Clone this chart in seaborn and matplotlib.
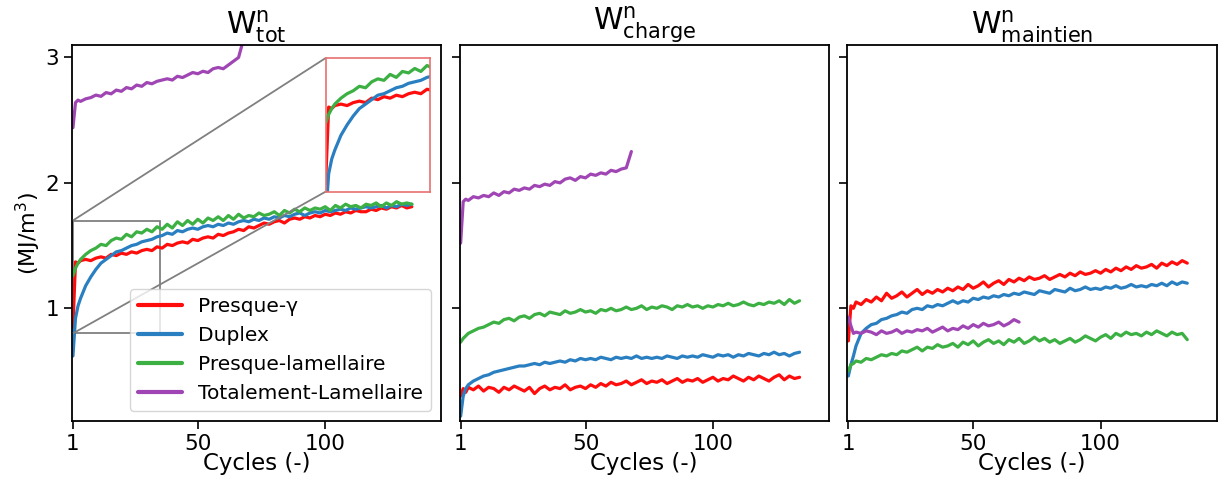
import pandas as pd
import seaborn as sns
import matplotlib
matplotlib.use('Agg')
import matplotlib.pyplot as plt
from mpl_toolkits.axes_grid1.inset_locator import mark_inset


SERIES = ['Presque-\u03b3', 'Duplex', 'Presque-lamellaire', 'Totalement-Lamellaire']
COLORS = ['#ff0d0d', '#2a7fc1', '#3cb043', '#a046b4']

CYCLES = [1, 2, 3, 4] + list(range(6, 135, 2))
CYCLES_TL = [1, 2, 3, 4] + list(range(6, 69, 2))

# W tot
TOT_PG = [0.85, 1.37, 1.36, 1.38, 1.39, 1.38, 1.40, 1.41, 1.40, 1.43,
          1.42, 1.44, 1.43, 1.45, 1.44, 1.46, 1.47, 1.46, 1.49, 1.48,
          1.51, 1.50, 1.52, 1.53, 1.52, 1.55, 1.54, 1.56, 1.57, 1.56,
          1.59, 1.58, 1.60, 1.61, 1.63, 1.62, 1.65, 1.64, 1.66, 1.68,
          1.67, 1.69, 1.70, 1.68, 1.71, 1.72, 1.71, 1.73, 1.72, 1.74,
          1.73, 1.75, 1.74, 1.76, 1.75, 1.77, 1.76, 1.78, 1.77, 1.77,
          1.79, 1.78, 1.80, 1.79, 1.81, 1.80, 1.82, 1.80, 1.81]
TOT_DU = [0.62, 0.92, 1.02, 1.08, 1.18, 1.25, 1.31, 1.36, 1.39, 1.42,
          1.45, 1.46, 1.48, 1.50, 1.51, 1.53, 1.54, 1.55, 1.57, 1.58,
          1.60, 1.59, 1.62, 1.61, 1.63, 1.64, 1.63, 1.65, 1.66, 1.65,
          1.67, 1.66, 1.68, 1.67, 1.69, 1.70, 1.69, 1.71, 1.70, 1.72,
          1.71, 1.73, 1.72, 1.74, 1.73, 1.75, 1.76, 1.74, 1.76, 1.77,
          1.76, 1.78, 1.77, 1.78, 1.79, 1.78, 1.80, 1.79, 1.80, 1.81,
          1.80, 1.81, 1.82, 1.80, 1.82, 1.81, 1.83, 1.82, 1.83]
TOT_PL = [1.26, 1.32, 1.36, 1.39, 1.43, 1.46, 1.48, 1.51, 1.50, 1.54,
          1.56, 1.55, 1.59, 1.57, 1.61, 1.60, 1.63, 1.61, 1.65, 1.63,
          1.67, 1.64, 1.69, 1.66, 1.70, 1.67, 1.71, 1.68, 1.72, 1.70,
          1.73, 1.70, 1.74, 1.71, 1.75, 1.72, 1.74, 1.73, 1.76, 1.74,
          1.75, 1.77, 1.74, 1.78, 1.76, 1.79, 1.77, 1.80, 1.78, 1.80,
          1.79, 1.81, 1.78, 1.82, 1.80, 1.83, 1.81, 1.82, 1.80, 1.83,
          1.82, 1.84, 1.81, 1.84, 1.82, 1.85, 1.83, 1.84, 1.83]
TOT_TL = [2.44, 2.64, 2.66, 2.65, 2.67, 2.68, 2.70, 2.69, 2.72, 2.71,
          2.74, 2.73, 2.76, 2.75, 2.78, 2.77, 2.80, 2.79, 2.81, 2.82,
          2.83, 2.82, 2.85, 2.84, 2.86, 2.88, 2.87, 2.89, 2.88, 2.91,
          2.92, 2.91, 2.94, 2.97, 3.00, 3.15]

# W charge
CH_PG = [0.30, 0.36, 0.33, 0.37, 0.35, 0.38, 0.34, 0.37, 0.36, 0.33,
         0.37, 0.35, 0.38, 0.36, 0.34, 0.37, 0.32, 0.36, 0.38, 0.35,
         0.37, 0.36, 0.39, 0.35, 0.37, 0.38, 0.36, 0.39, 0.37, 0.40,
         0.38, 0.41, 0.39, 0.40, 0.42, 0.39, 0.41, 0.43, 0.40, 0.42,
         0.41, 0.43, 0.40, 0.42, 0.44, 0.41, 0.43, 0.42, 0.44, 0.41,
         0.43, 0.45, 0.42, 0.44, 0.43, 0.46, 0.44, 0.42, 0.45, 0.43,
         0.46, 0.44, 0.42, 0.45, 0.47, 0.43, 0.46, 0.44, 0.45]
CH_DU = [0.14, 0.30, 0.36, 0.39, 0.42, 0.44, 0.46, 0.47, 0.49, 0.50,
         0.51, 0.52, 0.53, 0.54, 0.54, 0.55, 0.56, 0.55, 0.57, 0.56,
         0.57, 0.58, 0.57, 0.59, 0.58, 0.60, 0.59, 0.60, 0.59, 0.61,
         0.60, 0.59, 0.61, 0.60, 0.61, 0.60, 0.62, 0.60, 0.61, 0.60,
         0.61, 0.60, 0.62, 0.61, 0.60, 0.62, 0.61, 0.62, 0.61, 0.63,
         0.62, 0.61, 0.63, 0.62, 0.63, 0.61, 0.63, 0.62, 0.64, 0.63,
         0.62, 0.64, 0.63, 0.65, 0.63, 0.64, 0.62, 0.64, 0.65]
CH_PL = [0.73, 0.76, 0.78, 0.80, 0.82, 0.84, 0.85, 0.87, 0.89, 0.88,
         0.91, 0.92, 0.90, 0.93, 0.94, 0.92, 0.95, 0.96, 0.94, 0.97,
         0.96, 0.95, 0.98, 0.96, 0.97, 0.99, 0.97, 0.98, 0.96, 0.99,
         0.98, 1.00, 0.98, 0.99, 1.01, 0.99, 1.00, 1.02, 0.99, 1.01,
         1.00, 1.02, 1.01, 0.99, 1.02, 1.01, 1.03, 1.01, 1.02, 1.00,
         1.02, 1.01, 1.03, 1.02, 1.04, 1.02, 1.03, 1.05, 1.03, 1.02,
         1.04, 1.03, 1.05, 1.04, 1.06, 1.03, 1.07, 1.04, 1.06]
CH_TL = [1.52, 1.85, 1.87, 1.86, 1.89, 1.88, 1.90, 1.89, 1.92, 1.90,
         1.93, 1.92, 1.95, 1.94, 1.96, 1.95, 1.98, 1.97, 1.99, 1.98,
         2.01, 2.00, 2.03, 2.04, 2.02, 2.05, 2.04, 2.07, 2.06, 2.08,
         2.07, 2.10, 2.09, 2.11, 2.12, 2.25]

# W maintien
MA_PG = [0.74, 1.02, 1.00, 1.05, 1.03, 1.07, 1.05, 1.09, 1.06, 1.12,
         1.08, 1.10, 1.13, 1.09, 1.12, 1.15, 1.11, 1.14, 1.12, 1.15,
         1.13, 1.16, 1.14, 1.17, 1.15, 1.19, 1.16, 1.18, 1.21, 1.17,
         1.20, 1.22, 1.19, 1.23, 1.21, 1.24, 1.22, 1.25, 1.23, 1.24,
         1.26, 1.23, 1.25, 1.27, 1.25, 1.28, 1.26, 1.29, 1.27, 1.28,
         1.30, 1.28, 1.31, 1.29, 1.32, 1.30, 1.33, 1.31, 1.34, 1.32,
         1.33, 1.35, 1.32, 1.36, 1.34, 1.37, 1.35, 1.38, 1.36]
MA_DU = [0.46, 0.55, 0.62, 0.70, 0.80, 0.84, 0.87, 0.88, 0.91, 0.92,
         0.94, 0.95, 0.97, 0.96, 0.99, 1.00, 0.99, 1.02, 1.01, 1.03,
         1.02, 1.04, 1.06, 1.04, 1.06, 1.05, 1.08, 1.07, 1.09, 1.08,
         1.10, 1.09, 1.11, 1.10, 1.12, 1.11, 1.13, 1.12, 1.11, 1.14,
         1.13, 1.12, 1.15, 1.14, 1.13, 1.16, 1.14, 1.15, 1.17, 1.15,
         1.16, 1.15, 1.17, 1.16, 1.18, 1.16, 1.17, 1.19, 1.17, 1.18,
         1.17, 1.19, 1.18, 1.20, 1.18, 1.21, 1.19, 1.21, 1.20]
MA_PL = [0.50, 0.55, 0.56, 0.58, 0.57, 0.60, 0.59, 0.61, 0.63, 0.62,
         0.64, 0.63, 0.66, 0.65, 0.67, 0.69, 0.66, 0.69, 0.68, 0.71,
         0.69, 0.70, 0.72, 0.69, 0.73, 0.71, 0.74, 0.70, 0.73, 0.75,
         0.72, 0.74, 0.71, 0.75, 0.73, 0.76, 0.72, 0.74, 0.77, 0.74,
         0.76, 0.73, 0.75, 0.72, 0.74, 0.76, 0.73, 0.75, 0.78, 0.76,
         0.74, 0.77, 0.79, 0.76, 0.80, 0.78, 0.81, 0.79, 0.80, 0.78,
         0.81, 0.79, 0.82, 0.80, 0.78, 0.81, 0.79, 0.80, 0.75]
MA_TL = [0.93, 0.86, 0.80, 0.81, 0.80, 0.82, 0.81, 0.79, 0.82, 0.80,
         0.81, 0.83, 0.80, 0.82, 0.81, 0.83, 0.82, 0.84, 0.81, 0.83,
         0.85, 0.82, 0.84, 0.83, 0.86, 0.84, 0.87, 0.85, 0.88, 0.86,
         0.87, 0.89, 0.86, 0.88, 0.91, 0.89]

TITLES = [r'$\mathrm{W^{n}_{tot}}$', r'$\mathrm{W^{n}_{charge}}$',
          r'$\mathrm{W^{n}_{maintien}}$']
PANELS = [(TOT_PG, TOT_DU, TOT_PL, TOT_TL),
          (CH_PG, CH_DU, CH_PL, CH_TL),
          (MA_PG, MA_DU, MA_PL, MA_TL)]


def long_frame(values):
    rows = []
    for name, vals in zip(SERIES, values):
        cyc = CYCLES_TL if name == SERIES[-1] else CYCLES
        for c, v in zip(cyc, vals):
            rows.append({'cycle': c, 'value': v, 'serie': name})
    return pd.DataFrame(rows)


sns.set_style('ticks')
plt.rcParams['font.family'] = ['DejaVu Sans']
plt.rcParams.update({'text.color': 'black', 'axes.labelcolor': 'black',
                     'xtick.color': 'black', 'ytick.color': 'black'})

fig, axes = plt.subplots(1, 3, figsize=(12.19, 4.83), dpi=100, sharey=True)
fig.subplots_adjust(left=0.059, right=0.998, bottom=0.128, top=0.907,
                    wspace=0.05)
palette = dict(zip(SERIES, COLORS))

for i, (ax, title, vals) in enumerate(zip(axes, TITLES, PANELS)):
    df = long_frame(vals)
    sns.lineplot(data=df, x='cycle', y='value', hue='serie',
                 hue_order=SERIES, palette=palette, linewidth=2.3,
                 legend=(i == 0), ax=ax)
    ax.set_xlim(0.6, 145.5)
    ax.set_ylim(0.1, 3.1)
    ax.set_xticks([1, 50, 100])
    ax.set_yticks([1, 2, 3])
    ax.tick_params(labelsize=15.5, length=5.5, width=1.2)
    ax.tick_params(axis='x', pad=4)
    for s in ax.spines.values():
        s.set_linewidth(1.3)
        s.set_color('black')
    ax.set_title(title, fontsize=21.5, pad=2)
    ax.set_xlabel('Cycles (-)', fontsize=16.5, labelpad=-2)
    ax.set_ylabel('(MJ/m$^3$)' if i == 0 else '', fontsize=16, labelpad=2)

    if i == 0:
        leg = ax.legend(loc='lower right', fontsize=14.5, handlelength=2.2)
        for line in leg.get_lines():
            line.set_linewidth(3)

        axins = ax.inset_axes([0.687, 0.61, 0.283, 0.355])
        sns.lineplot(data=df, x='cycle', y='value', hue='serie',
                     hue_order=SERIES, palette=palette, linewidth=2.3,
                     legend=False, ax=axins)
        axins.set_xlim(1, 35)
        axins.set_ylim(0.8, 1.7)
        axins.set_xticks([])
        axins.set_yticks([])
        axins.set_xlabel('')
        axins.set_ylabel('')
        for s in axins.spines.values():
            s.set_color('#e87070')
            s.set_linewidth(1.2)
        mark_inset(ax, axins, loc1=2, loc2=3, fc='none', ec='0.5', lw=1.3)

fig.savefig('out.png', dpi=100)
